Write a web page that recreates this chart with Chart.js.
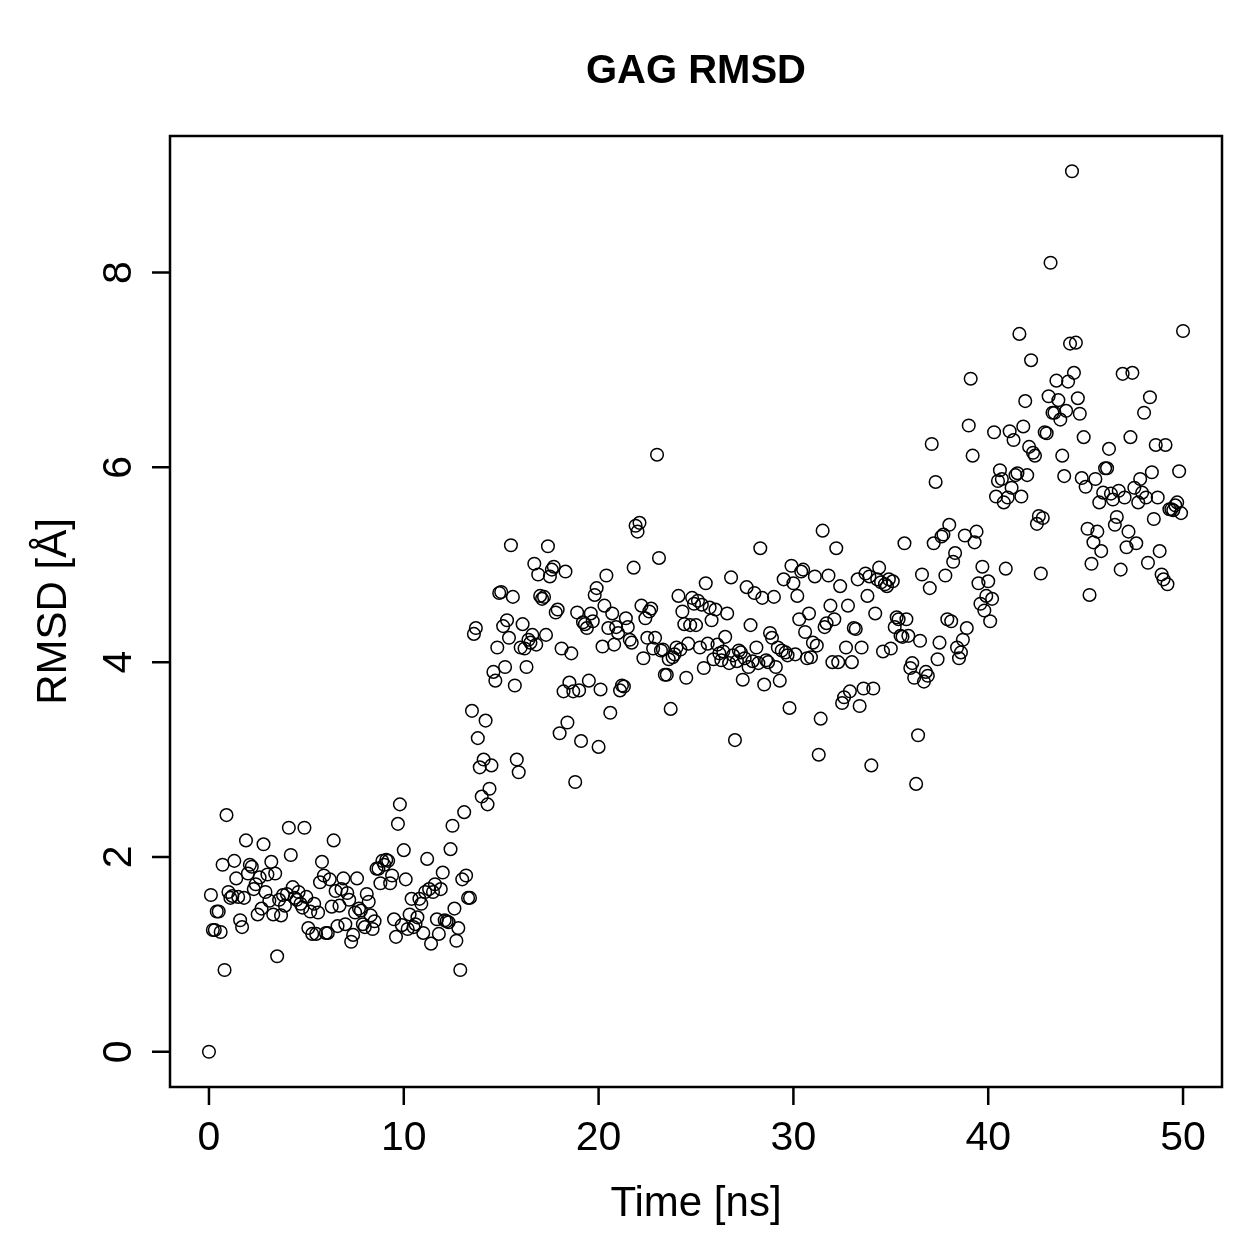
<!DOCTYPE html>
<html>
<head>
<meta charset="utf-8">
<script src="https://cdn.jsdelivr.net/npm/chart.js@4.4.1/dist/chart.umd.min.js"></script>
<style>
  html, body { margin: 0; padding: 0; background: #ffffff; }
  #wrap { width: 1259px; height: 1259px; }
</style>
</head>
<body>
<div id="wrap"><canvas id="c" width="1259" height="1259"></canvas></div>
<script>
// ---- Data (RMSD in Å; frames every 0.1 ns) ----
const chartTitle = "GAG RMSD";
const xTitle = "Time [ns]";
const yTitle = "RMSD [Å]";
const xTickValues = [0, 10, 20, 30, 40, 50];
const yTickValues = [0, 2, 4, 6, 8];
const frameInterval = 0.1; // ns between frames

const rmsdStart = [0.00]; // t = 0 ns
const rmsd_00_05 = [1.61,1.25,1.25,1.44,1.44,1.23,1.92,0.84,2.43,1.64,
  1.58,1.60,1.96,1.78,1.59,1.35,1.28,1.58,2.17,1.83,
  1.92,1.90,1.67,1.72,1.41,1.79,1.47,2.13,1.64,1.82,
  1.55,1.95,1.41,1.83,0.98,1.56,1.40,1.61,1.50,1.62,
  2.30,2.02,1.69,1.58,1.56,1.64,1.52,1.48,2.30,1.59];
const rmsd_05_10 = [1.27,1.44,1.21,1.52,1.21,1.43,1.74,1.95,1.81,1.22,
  1.22,1.77,1.49,2.17,1.65,1.29,1.50,1.67,1.78,1.31,
  1.63,1.56,1.13,1.20,1.43,1.78,1.47,1.45,1.31,1.28,
  1.62,1.54,1.40,1.26,1.34,1.88,1.88,1.73,1.96,1.92,
  1.97,1.96,1.73,1.81,1.36,1.18,2.34,2.54,1.30,2.07];
const rmsd_10_15 = [1.77,1.26,1.41,1.57,1.28,1.31,1.38,1.57,1.52,1.22,
  1.64,1.98,1.67,1.11,1.64,1.72,1.36,1.21,1.67,1.84,
  1.35,1.34,1.33,2.08,2.32,1.47,1.14,1.27,0.84,1.77,
  2.46,1.81,1.58,1.58,3.50,4.29,4.35,3.22,2.92,2.62,
  3.00,3.40,2.54,2.70,2.94,3.90,3.81,4.15,4.71,4.72];
const rmsd_15_20 = [4.37,3.95,4.43,4.25,5.20,4.67,3.76,3.00,2.87,4.15,
  4.39,4.14,3.95,4.23,4.20,4.28,5.01,4.18,4.90,4.68,
  4.65,4.67,4.28,5.19,4.88,4.95,4.98,4.51,4.54,3.27,
  4.14,3.70,4.93,3.38,3.79,4.09,3.70,2.77,4.51,3.71,
  3.19,4.41,4.39,4.35,3.81,4.50,4.42,4.69,4.76,3.13];
const rmsd_20_25 = [3.72,4.16,4.58,4.89,4.35,3.48,4.50,4.18,4.36,4.30,
  3.71,3.76,3.75,4.45,4.36,4.23,4.20,4.97,5.40,5.34,
  5.43,4.58,4.04,4.45,4.25,4.52,4.55,4.14,4.25,6.13,
  5.07,4.12,4.13,3.87,3.87,4.03,3.52,4.05,4.08,4.15,
  4.68,4.13,4.52,4.39,3.84,4.19,4.38,4.66,4.60,4.38];
const rmsd_25_30 = [4.63,4.15,4.59,3.94,4.81,4.19,4.56,4.43,4.03,4.54,
  4.18,4.09,4.02,4.11,4.26,4.50,3.99,4.87,4.07,3.20,
  4.01,4.12,4.10,3.82,4.04,4.77,3.95,4.38,4.01,4.71,
  4.15,3.99,5.17,4.66,3.77,4.02,4.00,4.30,4.25,4.67,
  3.95,4.15,3.81,4.12,4.85,4.10,4.07,3.53,4.99,4.81];
const rmsd_30_35 = [4.08,4.68,4.44,4.93,4.95,4.31,4.04,4.50,4.05,4.20,
  4.88,4.17,3.05,3.42,5.35,4.36,4.40,4.89,4.58,4.00,
  4.44,5.17,4.00,4.78,3.58,3.64,4.15,4.58,3.70,4.00,
  4.35,4.34,4.85,3.55,4.15,3.73,4.91,4.68,4.88,2.94,
  3.73,4.50,4.85,4.97,4.82,4.11,4.80,4.78,4.85,4.14];
const rmsd_35_40 = [4.83,4.36,4.46,4.44,4.27,4.26,5.22,4.44,4.27,3.94,
  3.99,3.84,2.75,3.25,4.22,4.90,3.80,3.90,3.86,4.76,
  6.24,5.22,5.85,4.03,4.20,5.29,5.31,4.89,4.44,5.41,
  4.42,5.03,5.12,4.15,4.04,4.10,4.23,5.30,4.35,6.43,
  6.91,6.12,5.23,5.34,4.81,4.60,4.98,4.53,4.68,4.83];
const rmsd_40_45 = [4.42,4.65,6.36,5.70,5.86,5.97,5.88,5.64,4.96,5.69,
  6.37,5.79,6.28,5.92,5.94,7.37,5.70,6.42,6.68,5.92,
  6.21,7.10,6.15,6.12,5.42,5.50,4.91,5.48,6.36,6.35,
  6.73,8.10,6.56,6.56,6.89,6.69,6.49,6.12,5.91,6.58,
  6.88,7.27,9.04,6.97,7.28,6.71,6.55,5.89,6.31,5.80];
const rmsd_45_50 = [5.37,4.69,5.01,5.23,5.88,5.34,5.64,5.14,5.74,5.99,
  5.99,6.19,5.73,5.67,5.41,5.49,5.76,4.95,6.96,5.69,
  5.18,5.34,6.31,6.97,5.79,5.22,5.64,5.88,5.74,6.56,
  5.69,5.02,6.72,5.95,5.47,6.23,5.69,5.14,4.90,4.85,
  6.23,4.80,5.57,5.57,5.56,5.61,5.64,5.96,5.53,7.40];

const rmsdAll = [].concat(rmsdStart, rmsd_00_05, rmsd_05_10, rmsd_10_15, rmsd_15_20,
  rmsd_20_25, rmsd_25_30, rmsd_30_35, rmsd_35_40, rmsd_40_45, rmsd_45_50);
const points = rmsdAll.map((v, i) => ({ x: +(i * frameInterval).toFixed(1), y: v }));

// R-style axis extents (4% padding of data range)
const xMinData = 0, xMaxData = 50;
const yMinData = Math.min(...rmsdAll), yMaxData = Math.max(...rmsdAll);
const xPad = (xMaxData - xMinData) * 0.04;
const yPad = (yMaxData - yMinData) * 0.04;

const FONT = '"Liberation Sans", Arial, Helvetica, sans-serif';

const rAxes = {
  id: 'rAxes',
  afterDraw(chart) {
    const ctx = chart.ctx;
    const a = chart.chartArea;
    const xs = chart.scales.x, ys = chart.scales.y;
    ctx.save();
    ctx.strokeStyle = '#000';
    ctx.fillStyle = '#000';
    ctx.lineWidth = 2.5;
    // box
    ctx.strokeRect(a.left, a.top, a.right - a.left, a.bottom - a.top);
    // ticks
    const tl = 18;
    ctx.beginPath();
    xTickValues.forEach(v => {
      const px = xs.getPixelForValue(v);
      ctx.moveTo(px, a.bottom); ctx.lineTo(px, a.bottom + tl);
    });
    yTickValues.forEach(v => {
      const py = ys.getPixelForValue(v);
      ctx.moveTo(a.left, py); ctx.lineTo(a.left - tl, py);
    });
    ctx.stroke();
    // x tick labels
    ctx.font = '41px ' + FONT;
    ctx.textAlign = 'center';
    ctx.textBaseline = 'alphabetic';
    xTickValues.forEach(v => {
      ctx.fillText(String(v), xs.getPixelForValue(v), a.bottom + 63);
    });
    // y tick labels rotated
    yTickValues.forEach(v => {
      const py = ys.getPixelForValue(v);
      ctx.save();
      ctx.translate(a.left - 39, py);
      ctx.rotate(-Math.PI / 2);
      ctx.fillText(String(v), 0, 0);
      ctx.restore();
    });
    // axis titles
    ctx.font = '42px ' + FONT;
    const cx = (a.left + a.right) / 2, cy = (a.top + a.bottom) / 2;
    ctx.fillText(xTitle, cx, a.bottom + 129);
    ctx.save();
    ctx.translate(a.left - 104, cy);
    ctx.rotate(-Math.PI / 2);
    ctx.fillText(yTitle, 0, 0);
    ctx.restore();
    // main title
    ctx.font = 'bold 40px ' + FONT;
    ctx.fillText(chartTitle, cx, 83);
    ctx.restore();
  }
};

new Chart(document.getElementById('c'), {
  type: 'scatter',
  data: {
    datasets: [{
      data: points,
      pointStyle: 'circle',
      pointRadius: 6.3,
      pointHoverRadius: 6.3,
      pointBorderWidth: 1.5,
      borderColor: '#000',
      backgroundColor: 'rgba(0,0,0,0)',
      pointBackgroundColor: 'rgba(0,0,0,0)'
    }]
  },
  options: {
    responsive: false,
    animation: false,
    devicePixelRatio: 1,
    layout: { padding: { left: 170, right: 37, top: 136, bottom: 172 } },
    plugins: { legend: { display: false }, tooltip: { enabled: false }, title: { display: false } },
    scales: {
      x: { type: 'linear', display: false, min: xMinData - xPad, max: xMaxData + xPad },
      y: { type: 'linear', display: false, min: yMinData - yPad, max: yMaxData + yPad }
    }
  },
  plugins: [rAxes]
});
</script>
</body>
</html>
